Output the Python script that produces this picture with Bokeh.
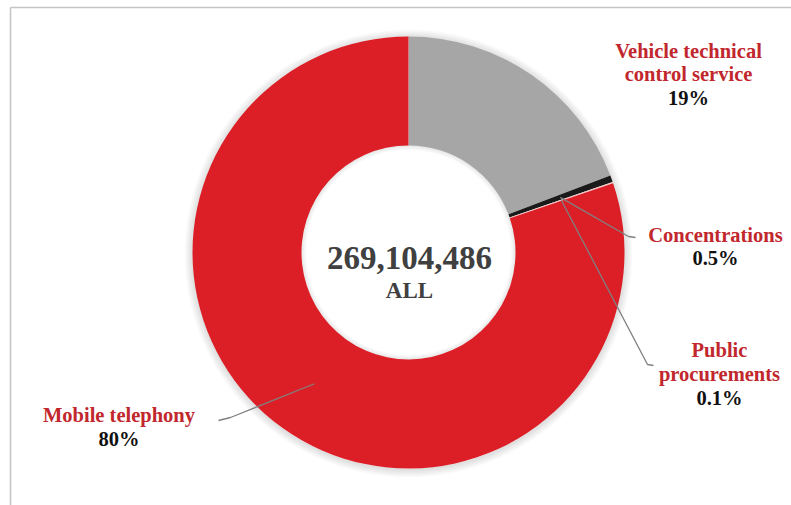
import math
from bokeh.plotting import figure
from bokeh.models import Range1d
from bokeh.embed import file_html
from bokeh.resources import INLINE
from bokeh.core.properties import value

# ---------------- data ----------------
categories = ["Vehicle technical control service", "Concentrations",
              "Public procurements", "Mobile telephony"]
label_lines = [["Vehicle technical", "control service"], ["Concentrations"],
               ["Public", "procurements"], ["Mobile telephony"]]
shares = [19.2, 0.5, 0.1, 80.2]
pct_labels = ["19%", "0.5%", "0.1%", "80%"]
colors = ["#A6A6A6", "#1A1A1A", "#F4C4C4", "#DC1E26"]
total_label = "269,104,486"
currency_label = "ALL"

# ---------------- layout ----------------
W, H = 791, 505
CX, CY = 408, H - 252
R_OUT, R_IN = 216, 107
FONT = value("Liberation Serif")
RED_TXT = "#C1272D"

p = figure(width=W, height=H, x_range=Range1d(0, W), y_range=Range1d(0, H),
           min_border=0, toolbar_location=None, output_backend="svg",
           x_axis_location=None, y_axis_location=None)
p.grid.visible = False
p.outline_line_color = None
p.background_fill_color = "white"

# frame border (left and top edges visible)
p.line([10, 10], [0, H - 7], line_color="#C4C4C4", line_width=1.5)
p.line([10, W], [H - 7, H - 7], line_color="#C4C4C4", line_width=1.5)

# soft shadow around the ring
for k in range(1, 9):
    p.annular_wedge(CX, CY - 1, R_OUT - 1, R_OUT + k, 0, 2 * math.pi,
                    fill_color="black", fill_alpha=0.014, line_color=None)
    p.annular_wedge(CX, CY, R_IN - k * 0.6, R_IN + 1, 0, 2 * math.pi,
                    fill_color="black", fill_alpha=0.010, line_color=None)

total = sum(shares)
cum = 0.0
starts, ends, mids = [], [], []
for s in shares:
    c0 = cum / total
    cum += s
    c1 = cum / total
    starts.append(math.radians(90 - 360 * c1))
    ends.append(math.radians(90 - 360 * c0))
    mids.append(math.radians(90 - 360 * (c0 + c1) / 2))

p.annular_wedge(x=[CX] * len(shares), y=[CY] * len(shares),
                inner_radius=R_IN, outer_radius=R_OUT,
                start_angle=starts, end_angle=ends,
                fill_color=colors, line_color=None)

# leader lines: start at mid-ring, go to elbow, then short horizontal
r_mid = (R_IN + R_OUT) / 2
leaders = {1: [(628, 236), (635, 237)],
           2: [(647, 364), (653, 365)],
           3: [(230, 417), (218, 420)]}
for i, pts in leaders.items():
    sx = CX + r_mid * math.cos(mids[i])
    sy = CY + r_mid * math.sin(mids[i])
    xs = [sx] + [q[0] for q in pts]
    ys = [sy] + [H - q[1] for q in pts]
    p.line(xs, ys, line_color="#808080", line_width=1.3)

# labels
label_pos = [(688, [50, 73.5, 97]), (715, [234, 257]),
             (719, [349, 373.5, 397]), (118.5, [414, 438])]
for i, (lx, bases) in enumerate(label_pos):
    lines = label_lines[i]
    for j, t in enumerate(lines):
        p.text([lx], [H - bases[j]], text=[t], text_font=FONT,
               text_font_style="bold", text_font_size="20.5px",
               text_color=RED_TXT, text_align="center",
               text_baseline="alphabetic")
    p.text([lx], [H - bases[len(lines)]], text=[pct_labels[i]], text_font=FONT,
           text_font_style="bold", text_font_size="20.5px",
           text_color="#111111", text_align="center",
           text_baseline="alphabetic")

# center total
p.text([CX + 1], [H - 257], text=[total_label], text_font=FONT,
       text_font_style="bold", text_font_size="33px", text_color="#404040",
       text_align="center", text_baseline="alphabetic")
p.text([CX + 1], [H - 290], text=[currency_label], text_font=FONT,
       text_font_style="bold", text_font_size="23px", text_color="#404040",
       text_align="center", text_baseline="alphabetic")

open("out.html", "w").write(file_html(p, INLINE))
